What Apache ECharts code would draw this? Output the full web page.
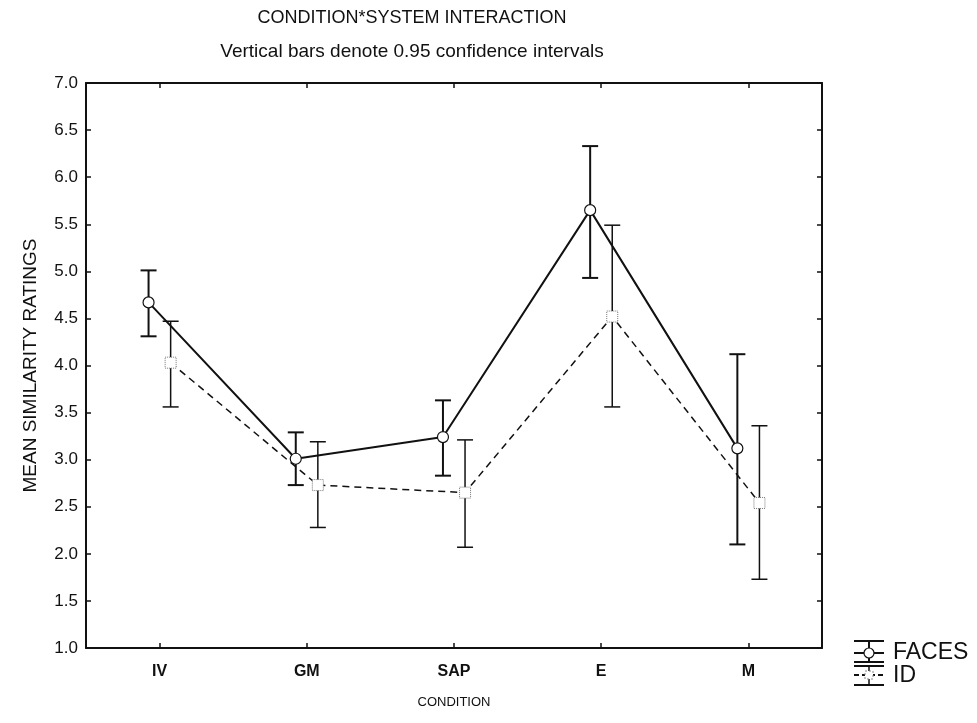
<!DOCTYPE html>
<html>
<head>
<meta charset="utf-8">
<script src="https://cdn.jsdelivr.net/npm/echarts@6/dist/echarts.min.js"></script>
<style>
  html, body { margin: 0; padding: 0; background: #fff; }
  #chart { width: 977px; height: 723px; }
</style>
</head>
<body>
<div id="chart"></div>
<script>
// Categories and values
const conditions = ['IV', 'GM', 'SAP', 'E', 'M'];
const facesMean = [4.67, 3.01, 3.24, 5.65, 3.12];
const facesLow  = [4.31, 2.73, 2.83, 4.93, 2.10];
const facesHigh = [5.01, 3.29, 3.63, 6.33, 4.12];
const idMean = [4.03, 2.73, 2.65, 4.52, 2.54];
const idLow  = [3.56, 2.28, 2.07, 3.56, 1.73];
const idHigh = [4.47, 3.19, 3.21, 5.49, 3.36];
const yTicks = [1, 7, 0.5];

const chart = echarts.init(document.getElementById('chart'));

// small horizontal shift so the two systems don't overlap
const shift = 0.075;
const pts = (means, off) => means.map((v, i) => [i + off, v]);
const bars = (lo, hi, off) => lo.map((v, i) => [i + off, v, hi[i]]);

const errorBar = (width) => (params, api) => {
    const lo = api.coord([api.value(0), api.value(1)]);
    const hi = api.coord([api.value(0), api.value(2)]);
    const cap = 8;
    const style = { stroke: '#111', lineWidth: width };
    return {
        type: 'group',
        children: [
            { type: 'line', shape: { x1: lo[0], y1: lo[1], x2: hi[0], y2: hi[1] }, style: style },
            { type: 'line', shape: { x1: lo[0] - cap, y1: lo[1], x2: lo[0] + cap, y2: lo[1] }, style: style },
            { type: 'line', shape: { x1: hi[0] - cap, y1: hi[1], x2: hi[0] + cap, y2: hi[1] }, style: style }
        ]
    };
};

const font = 'Liberation Sans, Arial, sans-serif';
const axisLine = { show: true, onZero: false, lineStyle: { color: '#111', width: 2 } };
const tickIn = { show: true, inside: true, length: 5, lineStyle: { color: '#111', width: 1.5 } };

// legend drawn by hand to copy the error-bar icons
const lx = 854, lw = 30, lc = lx + lw / 2;
const hline = (y, dash) => ({
    type: 'line', shape: { x1: lx, y1: y, x2: lx + lw, y2: y },
    style: { stroke: '#111', lineWidth: 2, lineDash: dash || null }
});

const option = {
    animation: false,
    backgroundColor: '#fff',
    grid: { left: 86, right: 155, top: 83, bottom: 75 },
    xAxis: [{
        type: 'category',
        data: conditions,
        position: 'bottom',
        boundaryGap: true,
        axisLine: axisLine,
        axisTick: Object.assign({ alignWithLabel: true }, tickIn),
        axisLabel: { color: '#111', fontSize: 16, fontWeight: 'bold', fontFamily: font, margin: 16 },
        name: 'CONDITION',
        nameLocation: 'middle',
        nameGap: 48,
        nameTextStyle: { color: '#111', fontSize: 13, fontFamily: font },
        splitLine: { show: false }
    }, {
        type: 'category',
        data: conditions,
        position: 'top',
        boundaryGap: true,
        axisLine: axisLine,
        axisTick: Object.assign({ alignWithLabel: true }, tickIn),
        axisLabel: { show: false },
        splitLine: { show: false }
    }, {
        type: 'value',
        min: -0.5,
        max: 4.5,
        show: false
    }],
    yAxis: [{
        type: 'value',
        min: yTicks[0],
        max: yTicks[1],
        interval: yTicks[2],
        position: 'left',
        axisLine: axisLine,
        axisTick: tickIn,
        axisLabel: {
            color: '#111', fontSize: 17, fontFamily: font,
            margin: 8, formatter: (v) => v.toFixed(1)
        },
        name: 'MEAN SIMILARITY RATINGS',
        nameLocation: 'middle',
        nameGap: 46,
        nameTextStyle: { color: '#111', fontSize: 19, fontFamily: font },
        splitLine: { show: false }
    }, {
        type: 'value',
        min: yTicks[0],
        max: yTicks[1],
        interval: yTicks[2],
        position: 'right',
        axisLine: axisLine,
        axisTick: tickIn,
        axisLabel: { show: false },
        splitLine: { show: false }
    }],
    series: [{
        name: 'FACES bars',
        type: 'custom',
        xAxisIndex: 2,
        renderItem: errorBar(2),
        data: bars(facesLow, facesHigh, -shift),
        z: 2
    }, {
        name: 'ID bars',
        type: 'custom',
        xAxisIndex: 2,
        renderItem: errorBar(1.5),
        data: bars(idLow, idHigh, shift),
        z: 2
    }, {
        name: 'FACES',
        type: 'line',
        xAxisIndex: 2,
        data: pts(facesMean, -shift),
        lineStyle: { color: '#111', width: 2 },
        symbol: 'circle',
        symbolSize: 11,
        itemStyle: { color: '#fff', borderColor: '#111', borderWidth: 1.2 },
        z: 3
    }, {
        name: 'ID',
        type: 'line',
        xAxisIndex: 2,
        data: pts(idMean, shift),
        lineStyle: { color: '#111', width: 1.5, type: [7, 5] },
        symbol: 'rect',
        symbolSize: 11,
        itemStyle: { color: '#fff', borderColor: '#777', borderWidth: 1, borderType: 'dotted' },
        z: 3
    }],
    graphic: [
        {
            type: 'text', x: 412, y: 18,
            style: { text: 'CONDITION*SYSTEM INTERACTION', fill: '#111', font: '18px ' + font, align: 'center', verticalAlign: 'middle' }
        },
        {
            type: 'text', x: 412, y: 52,
            style: { text: 'Vertical bars denote 0.95 confidence intervals', fill: '#111', font: '19px ' + font, align: 'center', verticalAlign: 'middle' }
        },
        // FACES legend icon
        hline(641), hline(653), hline(662),
        { type: 'line', shape: { x1: lc, y1: 641, x2: lc, y2: 662 }, style: { stroke: '#111', lineWidth: 2 } },
        { type: 'circle', shape: { cx: lc, cy: 653, r: 5 }, style: { fill: '#fff', stroke: '#111', lineWidth: 1.2 } },
        { type: 'text', x: 893, y: 653, style: { text: 'FACES', fill: '#111', font: '23px ' + font, verticalAlign: 'middle' } },
        // ID legend icon
        hline(666), hline(675, [5, 3]), hline(685),
        { type: 'line', shape: { x1: lc, y1: 666, x2: lc, y2: 685 }, style: { stroke: '#111', lineWidth: 1.5 } },
        { type: 'rect', shape: { x: lc - 4, y: 671, width: 8, height: 8 }, style: { fill: '#fff', stroke: '#888', lineWidth: 1, lineDash: [2, 2] } },
        { type: 'text', x: 893, y: 676, style: { text: 'ID', fill: '#111', font: '23px ' + font, verticalAlign: 'middle' } }
    ]
};

chart.setOption(option);
window.onresize = function() {
    chart.resize();
};
</script>
</body>
</html>
